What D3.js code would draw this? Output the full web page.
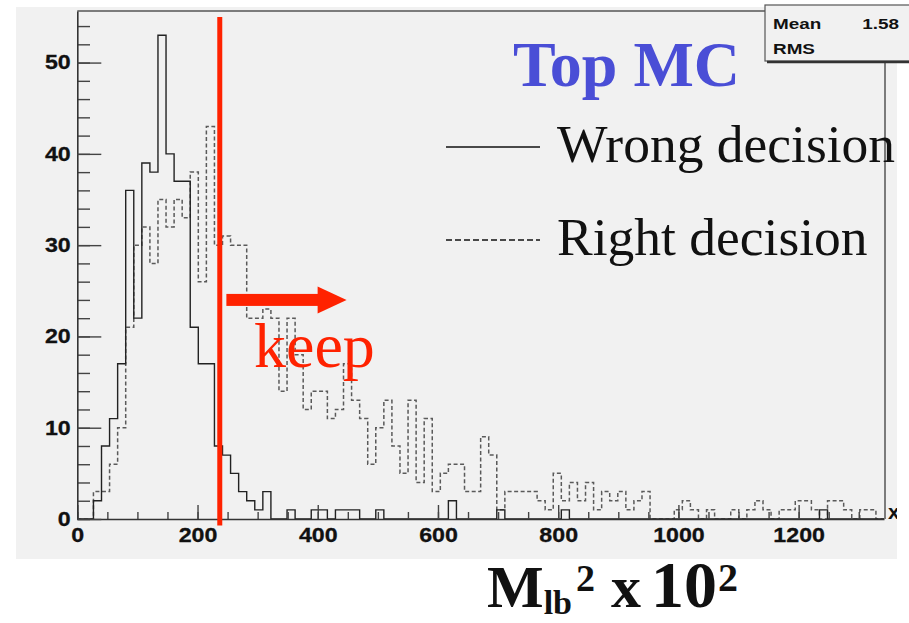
<!DOCTYPE html>
<html><head><meta charset="utf-8">
<script src="https://cdn.jsdelivr.net/npm/d3@7"></script>
<style>body{margin:0;background:#fff}svg{display:block}</style>
</head><body><svg id="c" width="909" height="623"></svg>
<script>
// ---- data ----
const xDomain = [0, 1342];
const yDomain = [0, 55.65];
const nBins = 100;
const wrongDecision = [
  0,0,2,8,11,17,36,22,39,38,
  53,40,37,37,21,17,17,8,7,5,
  3,2,1,3,0,0,1,0,0,1,
  1,0,1,1,1,0,0,1,0,0,
  0,0,0,0,0,0,2,0,0,0,
  0,0,1,0,0,0,0,0,0,0,
  1,0,0,0,0,0,0,0,0,0,
  0,0,0,0,0,0,0,0,0,0,
  0,0,0,0,0,0,0,0,0,0,
  0,0,1,0,0,0,0,0,0,0
];
const rightDecision = [
  0,0,3,3,6,10,21,30,32,28,
  35,32,35,33,38,26,43,30,31,30,
  30,22,22,23,22,14,22,18,12,14,
  14,11,12,17,13,11,6,10,13,8,
  5,13,4,11,3,5,6,6,3,3,
  9,7,1,3,3,3,3,2,1,5,
  2,4,2,4,1,3,2,3,1,2,
  3,0,0,0,1,2,1,0,1,0,
  0,1,0,1,2,1,0,1,1,2,
  2,1,0,2,2,1,0,1,1,0
];
const xTickValues = [0,200,400,600,800,1000,1200];
const yTickValues = [0,10,20,30,40,50];
const statLabels = ["Mean","RMS"];
const statValues = ["1.58",""];
const legendLabels = ["Wrong decision","Right decision"];
const titleText = "Top MC";
const cutValue = 237;
const keepArrow = {from: 248, to: 448, y: 24};

// ---- layout ----
const svg = d3.select("#c");
const W = 909, H = 623;
const L = 77.3, R = 885, T = 11, B = 519;
const x = d3.scaleLinear().domain(xDomain).range([L, 884]);
const y = d3.scaleLinear().domain(yDomain).range([B, T]);
const binW = (xDomain[1]-xDomain[0])/nBins;

// background
svg.append("rect").attr("x",0).attr("y",0).attr("width",W).attr("height",H).attr("fill","#fff");
svg.append("rect").attr("x",16).attr("y",7).attr("width",881).attr("height",552).attr("fill","#f1f1f1");
svg.append("clipPath").attr("id","bg").append("rect").attr("x",16).attr("y",7).attr("width",881).attr("height",552);

// frame
const frame = svg.append("g").attr("stroke","#555").attr("stroke-width",1.5).attr("fill","none");
frame.append("line").attr("x1",L).attr("x2",765).attr("y1",T).attr("y2",T);
frame.append("line").attr("x1",R).attr("x2",R).attr("y1",62).attr("y2",B);

// histograms
function stepPoints(vals){
  const pts = [[xDomain[0],0]];
  vals.forEach((v,i)=>{ pts.push([i*binW, v]); pts.push([(i+1)*binW, v]); });
  pts.push([xDomain[1],0]);
  return pts;
}
const line = d3.line().x(d=>x(d[0])).y(d=>y(d[1]));
svg.append("path").attr("d", line(stepPoints(rightDecision)))
  .attr("fill","none").attr("stroke","#5a5a5a").attr("stroke-width",1.5).attr("stroke-dasharray","4,2.5");
svg.append("path").attr("d", line(stepPoints(wrongDecision)))
  .attr("fill","none").attr("stroke","#222").attr("stroke-width",1.4);

// axes
const fontAx = "'Liberation Sans', Arial, sans-serif";
const xMinor = d3.range(0, 1341, 50);
const yMinor = d3.range(0, 55, 2);
const gxm = svg.append("g").attr("transform",`translate(0,${B})`)
  .call(d3.axisBottom(x).tickValues(xMinor).tickSize(-7).tickFormat(""));
gxm.select(".domain").remove();
const gx = svg.append("g").attr("transform",`translate(0,${B})`)
  .call(d3.axisBottom(x).tickValues(xTickValues).tickSize(-14).tickSizeOuter(0).tickPadding(9).tickFormat(d3.format("d")));
const gym = svg.append("g").attr("transform",`translate(${L},0)`)
  .call(d3.axisLeft(y).tickValues(yMinor).tickSize(-12.7).tickFormat(""));
gym.select(".domain").remove();
const gy = svg.append("g").attr("transform",`translate(${L},0)`)
  .call(d3.axisLeft(y).tickValues(yTickValues).tickSize(-24).tickSizeOuter(0).tickPadding(5.7).tickFormat(d3.format("d")));
[gx,gxm,gy,gym].forEach(g=>{
  g.selectAll("line").attr("stroke","#444").attr("stroke-width",1.4);
  g.selectAll(".domain").attr("stroke","#333").attr("stroke-width",1.6);
});
[gx,gy].forEach(g=>{
  g.selectAll("text").attr("font-family",fontAx).attr("font-weight","bold")
    .attr("font-size",20).attr("fill","#111").attr("stroke","#111").attr("stroke-width",0.3)
    .attr("transform","scale(1.16,1)");
});
// axis end label "x"
svg.append("g").attr("clip-path","url(#bg)").append("text")
  .attr("x",888).attr("y",519).attr("font-family",fontAx).attr("font-weight","bold")
  .attr("font-size",21).attr("fill","#111").text("x");

// stat box
const sb = svg.append("g");
sb.append("rect").attr("x",765).attr("y",5).attr("width",160).attr("height",56)
  .attr("fill","#f1f1f1").attr("stroke","#555").attr("stroke-width",1.2);
sb.append("line").attr("x1",767).attr("x2",909).attr("y1",62).attr("y2",62)
  .attr("stroke","#333").attr("stroke-width",2.5);
statLabels.forEach((s,i)=>{
  sb.append("text").attr("transform",`translate(773,${29+i*24.5}) scale(1.22,1)`)
    .attr("font-family",fontAx).attr("font-weight","bold").attr("font-size",15.5).attr("fill","#111").text(s);
  sb.append("text").attr("transform",`translate(899,${29+i*24.5}) scale(1.22,1)`).attr("text-anchor","end")
    .attr("font-family",fontAx).attr("font-weight","bold").attr("font-size",15.5).attr("fill","#111").text(statValues[i]);
});

// cut line and arrow
const red = "#ff2200";
svg.append("line").attr("x1",x(cutValue)).attr("x2",x(cutValue)).attr("y1",y(55)).attr("y2",y(-0.7))
  .attr("stroke",red).attr("stroke-width",5);
const ay = y(keepArrow.y);
svg.append("rect").attr("x",x(keepArrow.from)).attr("y",ay-6).attr("width",x(keepArrow.to)-28-x(keepArrow.from)).attr("height",12).attr("fill",red);
svg.append("path").attr("d",`M${x(keepArrow.to)-29},${ay-13.5}L${x(keepArrow.to)},${ay}L${x(keepArrow.to)-29},${ay+13.5}Z`).attr("fill",red);
const serif = "'Liberation Serif','Times New Roman',serif";
svg.append("text").attr("x",254).attr("y",367).attr("font-family",serif).attr("font-size",64).attr("fill",red).text("keep");

// title
svg.append("text").attr("x",513).attr("y",86).attr("font-family",serif).attr("font-weight","bold")
  .attr("font-size",64).attr("fill","#4a4ed6").text(titleText);

// legend
const legY = [147, 240];
legendLabels.forEach((s,i)=>{
  svg.append("line").attr("x1",446).attr("x2",540).attr("y1",legY[i]).attr("y2",legY[i])
    .attr("stroke","#111").attr("stroke-width",1.3).attr("stroke-dasharray", i===1 ? "6,3" : null);
  svg.append("text").attr("x",557).attr("y",legY[i]+15).attr("font-family",serif)
    .attr("font-size",53.5).attr("fill","#111").text(s);
});

// x axis title
const xt = svg.append("text").attr("x",487).attr("y",607).attr("font-family",serif).attr("font-weight","bold").attr("fill","#111");
xt.append("tspan").attr("font-size",60).text("M");
xt.append("tspan").attr("font-size",34).attr("dy",7).text("lb");
xt.append("tspan").attr("font-size",38).attr("dy",-23).attr("dx",4).text("2");
xt.append("tspan").attr("font-size",60).attr("dy",16).attr("dx",16).text("x");
xt.append("tspan").attr("font-size",66).attr("dx",10).text("10");
xt.append("tspan").attr("font-size",40).attr("dy",-16).attr("dx",1).text("2");
</script></body></html>
